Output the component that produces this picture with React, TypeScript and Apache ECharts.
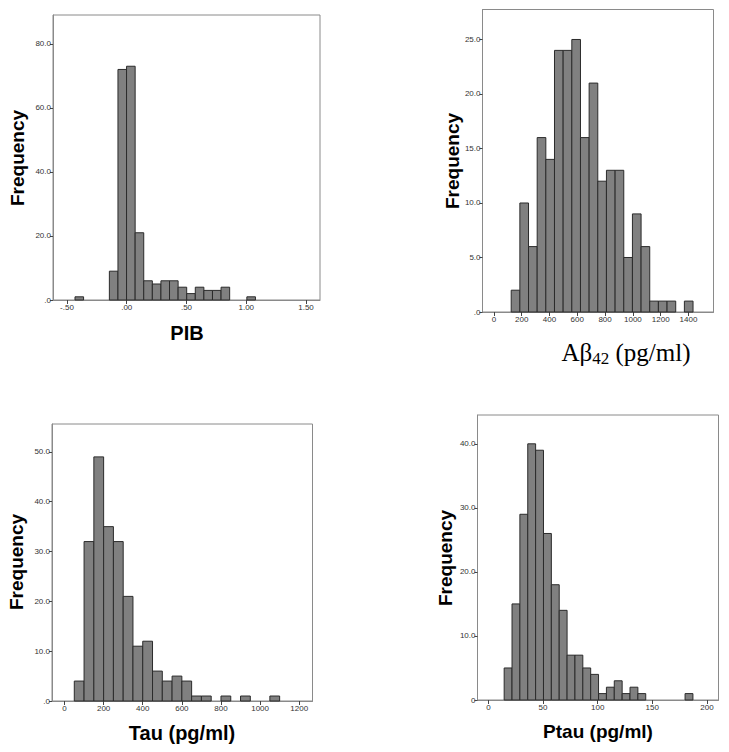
import React, { useEffect, useRef } from "react";
import * as echarts from "echarts";

// ---- Data (histogram bins) ----
const PIB_BIN_START = -0.433;
const PIB_BIN_WIDTH = 0.0719;
const PIB_COUNTS = [1, 0, 0, 0, 9, 72, 73, 21, 6, 5, 6, 6, 4, 2, 4, 3, 3, 4, 0, 0, 1];
const PIB_X_TICKS = [-0.5, 0, 0.5, 1.0, 1.5];
const PIB_Y_TICKS = [0, 20, 40, 60, 80];

const AB_BIN_START = 124.5;
const AB_BIN_WIDTH = 62.3;
const AB_COUNTS = [2, 10, 6, 16, 14, 24, 24, 25, 16, 21, 12, 13, 13, 5, 9, 6, 1, 1, 1, 0, 1];
const AB_X_TICKS = [0, 200, 400, 600, 800, 1000, 1200, 1400];
const AB_Y_TICKS = [0, 5, 10, 15, 20, 25];

const TAU_BIN_START = 50;
const TAU_BIN_WIDTH = 50;
const TAU_COUNTS = [4, 32, 49, 35, 32, 21, 11, 12, 6, 4, 5, 4, 1, 1, 0, 1, 0, 1, 0, 0, 1];
const TAU_X_TICKS = [0, 200, 400, 600, 800, 1000, 1200];
const TAU_Y_TICKS = [0, 10, 20, 30, 40, 50];

const PTAU_BIN_START = 14.4;
const PTAU_BIN_WIDTH = 7.2;
const PTAU_COUNTS = [5, 15, 29, 40, 39, 26, 18, 14, 7, 7, 5, 4, 1, 2, 3, 1, 2, 1, 0, 0, 0, 0, 0, 1];
const PTAU_X_TICKS = [0, 50, 100, 150, 200];
const PTAU_Y_TICKS = [0, 10, 20, 30, 40];

function binsToData(start: number, width: number, counts: number[]) {
  const out: number[][] = [];
  counts.forEach((c, i) => {
    if (c > 0) out.push([start + i * width, start + (i + 1) * width, c]);
  });
  return out;
}

const fmtY = (v: number) => v.toFixed(1).replace(/^0/, "");
const fmtYPtau = (v: number) => (v === 0 ? "0" : fmtY(v));
const fmtPib = (v: number) => {
  const s = Math.abs(v).toFixed(2).replace(/^0/, "");
  return v < 0 ? "-" + s : s;
};

const LABEL_FONT = "Liberation Sans, Arial, sans-serif";

function makeX(gridIndex: number, min: number, max: number, ticks: number[], fmt?: (v: number) => string) {
  return {
    type: "value",
    gridIndex,
    min,
    max,
    splitLine: { show: false },
    axisLine: { show: true, onZero: false, lineStyle: { color: "#8a8a8a", width: 1 } },
    axisTick: { show: true, length: 4, customValues: ticks, lineStyle: { color: "#444" } },
    axisLabel: {
      customValues: ticks,
      margin: 3,
      fontSize: 8,
      color: "#333",
      fontFamily: LABEL_FONT,
      formatter: fmt ? (v: number) => fmt(v) : (v: number) => String(v),
    },
  };
}

function makeY(gridIndex: number, max: number, ticks: number[], fmt: (v: number) => string = fmtY) {
  return {
    type: "value",
    gridIndex,
    min: 0,
    max,
    splitLine: { show: false },
    axisLine: { show: true, onZero: false, lineStyle: { color: "#8a8a8a", width: 1 } },
    axisTick: { show: true, length: 3, customValues: ticks, lineStyle: { color: "#444" } },
    axisLabel: {
      customValues: ticks,
      margin: 2,
      fontSize: 8,
      color: "#333",
      fontFamily: LABEL_FONT,
      formatter: (v: number) => fmt(v),
    },
  };
}

function histSeries(idx: number, data: number[][]) {
  return {
    type: "custom",
    xAxisIndex: idx,
    yAxisIndex: idx,
    encode: { x: [0, 1], y: 2 },
    data,
    renderItem: (params: any, api: any) => {
      const x0 = api.value(0);
      const x1 = api.value(1);
      const c = api.value(2);
      const p0 = api.coord([x0, 0]);
      const p1 = api.coord([x1, c]);
      return {
        type: "rect",
        shape: { x: p0[0], y: p1[1], width: p1[0] - p0[0], height: p0[1] - p1[1] },
        style: { fill: "#808080", stroke: "#2b2b2b", lineWidth: 1 },
      };
    },
  };
}

const TITLE_FONT_BOLD = "bold 19px Liberation Sans, Arial, sans-serif";

export default function App() {
  const ref = useRef<HTMLDivElement>(null);
  useEffect(() => {
    if (!ref.current) return;
    const chart = echarts.init(ref.current, undefined, { renderer: "svg" });
    const gridStyle = { show: true, borderColor: "#8a8a8a", borderWidth: 1, backgroundColor: "#fff" };
    chart.setOption({
      animation: false,
      backgroundColor: "#ffffff",
      grid: [
        { left: 53, top: 15, width: 267, height: 285, ...gridStyle },
        { left: 482.5, top: 9.5, width: 231, height: 302.5, ...gridStyle },
        { left: 52, top: 424, width: 260.5, height: 277, ...gridStyle },
        { left: 477.5, top: 415, width: 241, height: 285, ...gridStyle },
      ],
      xAxis: [
        makeX(0, -0.617, 1.617, PIB_X_TICKS, fmtPib),
        makeX(1, -82, 1580, AB_X_TICKS),
        makeX(2, -64, 1268, TAU_X_TICKS),
        makeX(3, -10, 210.6, PTAU_X_TICKS),
      ],
      yAxis: [
        makeY(0, 89, PIB_Y_TICKS),
        makeY(1, 27.75, AB_Y_TICKS),
        makeY(2, 55.6, TAU_Y_TICKS),
        makeY(3, 44.5, PTAU_Y_TICKS, fmtYPtau),
      ],
      series: [
        histSeries(0, binsToData(PIB_BIN_START, PIB_BIN_WIDTH, PIB_COUNTS)),
        histSeries(1, binsToData(AB_BIN_START, AB_BIN_WIDTH, AB_COUNTS)),
        histSeries(2, binsToData(TAU_BIN_START, TAU_BIN_WIDTH, TAU_COUNTS)),
        histSeries(3, binsToData(PTAU_BIN_START, PTAU_BIN_WIDTH, PTAU_COUNTS)),
      ],
      graphic: [
        { type: "text", x: 17.5, y: 158, rotation: Math.PI / 2, style: { text: "Frequency", font: TITLE_FONT_BOLD, fill: "#000", align: "center", verticalAlign: "middle" } },
        { type: "text", x: 452, y: 161, rotation: Math.PI / 2, style: { text: "Frequency", font: TITLE_FONT_BOLD, fill: "#000", align: "center", verticalAlign: "middle" } },
        { type: "text", x: 16.5, y: 562, rotation: Math.PI / 2, style: { text: "Frequency", font: TITLE_FONT_BOLD, fill: "#000", align: "center", verticalAlign: "middle" } },
        { type: "text", x: 445, y: 558, rotation: Math.PI / 2, style: { text: "Frequency", font: TITLE_FONT_BOLD, fill: "#000", align: "center", verticalAlign: "middle" } },
        { type: "text", x: 187, y: 333, style: { text: "PIB", font: "bold 20px Liberation Sans, Arial, sans-serif", fill: "#000", align: "center", verticalAlign: "middle" } },
        { type: "text", x: 182, y: 733, style: { text: "Tau (pg/ml)", font: "bold 20px Liberation Sans, Arial, sans-serif", fill: "#000", align: "center", verticalAlign: "middle" } },
        { type: "text", x: 598, y: 731, style: { text: "Ptau (pg/ml)", font: "bold 19px Liberation Sans, Arial, sans-serif", fill: "#000", align: "center", verticalAlign: "middle" } },
        {
          type: "text",
          x: 626,
          y: 352,
          style: {
            text: "{a|Aβ}{s|42}{a| (pg/ml)}",
            align: "center",
            verticalAlign: "middle",
            rich: {
              a: { font: "25px Liberation Serif, Times New Roman, serif", fill: "#000", lineHeight: 30, verticalAlign: "middle" },
              s: { font: "17px Liberation Serif, Times New Roman, serif", fill: "#000", lineHeight: 30, verticalAlign: "bottom" },
            },
          },
        },
      ],
    });
    return () => chart.dispose();
  }, []);
  return <div ref={ref} style={{ position: "absolute", left: 0, top: 0, width: 729, height: 752 }} />;
}
